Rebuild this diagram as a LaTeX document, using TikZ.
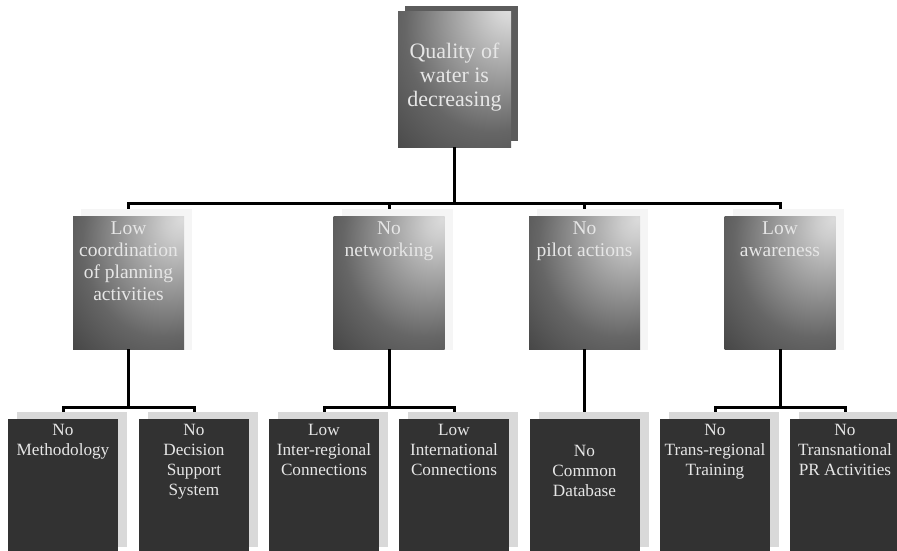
\documentclass[tikz,border=0pt]{standalone}
\usepackage{fontspec}
\setmainfont{Liberation Serif}
\pgfdeclareradialshading{midshade}{\pgfqpoint{24bp}{24bp}}{rgb(0bp)=(0.86,0.86,0.86); rgb(6bp)=(0.80,0.80,0.80); rgb(36bp)=(0.40,0.40,0.40); rgb(58bp)=(0.23,0.23,0.23); rgb(100bp)=(0.23,0.23,0.23)}
\pgfdeclareradialshading{topshade}{\pgfqpoint{26bp}{30bp}}{rgb(0bp)=(0.90,0.90,0.90); rgb(6bp)=(0.84,0.84,0.84); rgb(38bp)=(0.40,0.40,0.40); rgb(60bp)=(0.25,0.25,0.25); rgb(100bp)=(0.25,0.25,0.25)}
\definecolor{botfill}{RGB}{50,50,50}
\definecolor{botshadow}{RGB}{217,217,217}
\definecolor{midshadow}{RGB}{245,245,245}
\definecolor{topshadow}{RGB}{92,92,92}
\definecolor{txtc}{RGB}{230,230,230}
\tikzset{
  conn/.style={line width=3pt, black, line join=miter},
  topfront/.style={rectangle, inner sep=0pt, minimum width=113pt, minimum height=135pt, shade, shading=topshade},
  topback/.style={rectangle, inner sep=0pt, minimum width=113pt, minimum height=135pt, fill=topshadow},
  midfront/.style={rectangle, inner sep=0pt, minimum width=111pt, minimum height=133pt, shade, shading=midshade},
  midback/.style={rectangle, inner sep=0pt, minimum width=111pt, minimum height=141pt, fill=midshadow},
  botfront/.style={rectangle, inner sep=0pt, minimum width=110pt, minimum height=135pt, fill=botfill},
  botback/.style={rectangle, inner sep=0pt, minimum width=110pt, minimum height=135pt, fill=botshadow},
  toptxt/.style={text=txtc, align=center, inner sep=0pt, anchor=north, font=\fontsize{22}{24}\selectfont},
  midtxt/.style={text=txtc, align=center, inner sep=0pt, anchor=north, font=\fontsize{19.5}{22}\selectfont},
  bottxt/.style={text=txtc, align=center, inner sep=0pt, anchor=north, font=\fontsize{17.2}{20}\selectfont},
}
\begin{document}
\begin{tikzpicture}[x=1pt,y=-1pt]
\useasboundingbox[fill=white] (0,0) rectangle (897,551);
% top box
\node[topback] (tops) at (461.5,73.5) {};
\node[topfront] (top) at (454.5,79.5) {};
\node[toptxt] (toptext) at (454.5,42.5) {Quality of\\water is\\decreasing};
% middle row
\foreach \n/\x in {m1/128.5, m2/389, m3/584.5, m4/780}{
  \node[midback] (\n s) at (\x+8,279.5) {};
  \node[midfront] (\n) at (\x,282.5) {};
}
\node[midtxt] (m1t) at (128.5,221.5) {Low\\coordination\\of planning\\activities};
\node[midtxt] (m2t) at (389,221.5) {No\\networking};
\node[midtxt] (m3t) at (584.5,221.5) {No\\pilot actions};
\node[midtxt] (m4t) at (780,221.5) {Low\\awareness};
% bottom row
\foreach \n/\x in {b1/63, b2/194, b3/324, b4/454, b5/584.5, b6/715, b7/845}{
  \node[botback] (\n s) at (\x+9,479.5) {};
  \node[botfront] (\n) at (\x,486.5) {};
}
\node[bottxt] (b1t) at (63,424.5) {No\\Methodology};
\node[bottxt] (b2t) at (194,424.5) {No\\Decision\\Support\\System};
\node[bottxt] (b3t) at (324,424.5) {Low\\Inter-regional\\Connections};
\node[bottxt] (b4t) at (454,424.5) {Low\\International\\Connections};
\node[bottxt] (b5t) at (584.5,445) {No\\Common\\Database};
\node[bottxt] (b6t) at (715,424.5) {No\\Trans-regional\\Training};
\node[bottxt] (b7t) at (845,424.5) {No\\Transnational\\PR Activities};
% connectors
\coordinate (bus) at (454.5,203);
\draw[conn] (top.south) -- (bus);
\draw[conn] (m1.north |- m1s.north) |- (bus);
\draw[conn] (m4.north |- m4s.north) |- (bus);
\draw[conn] (m2.north |- m2s.north) -- (m2.north |- bus);
\draw[conn] (m3.north |- m3s.north) -- (m3.north |- bus);
% sub buses
\coordinate (s1) at (128.5,407);
\coordinate (s2) at (389,407);
\coordinate (s4) at (780,407);
\draw[conn] (m1.south) -- (s1);
\draw[conn] (b1.north |- b1s.north) |- (s1);
\draw[conn] (b2.north |- b2s.north) |- (s1);
\draw[conn] (m2.south) -- (s2);
\draw[conn] (b3.north |- b3s.north) |- (s2);
\draw[conn] (b4.north |- b4s.north) |- (s2);
\draw[conn] (m3.south) -- (b5.north |- b5s.north);
\draw[conn] (m4.south) -- (s4);
\draw[conn] (b6.north |- b6s.north) |- (s4);
\draw[conn] (b7.north |- b7s.north) |- (s4);
\end{tikzpicture}
\end{document}
